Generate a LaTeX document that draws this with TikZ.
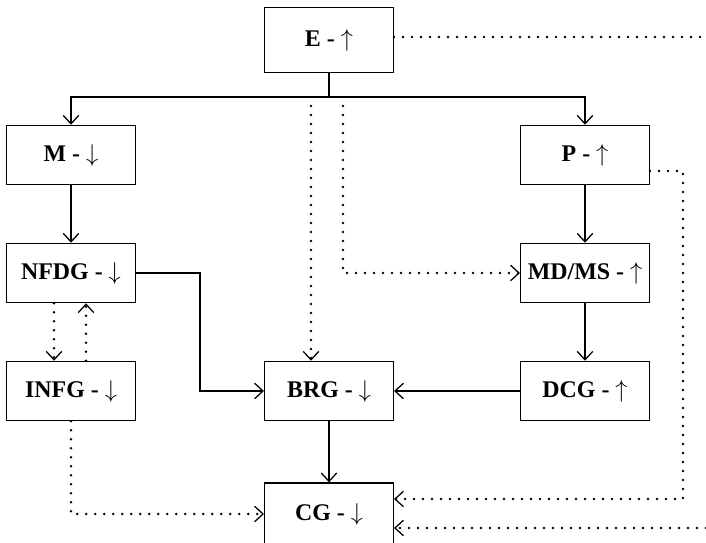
\documentclass[tikz,border=0pt]{standalone}
\usepackage{fontspec}
\setmainfont{Liberation Serif}
\usetikzlibrary{arrows.meta,calc}

\begin{document}
\begin{tikzpicture}[
    x=0.025cm, y=-0.025cm,
    block/.style={draw, line width=0.9pt, minimum width=3.22cm, minimum height=1.48cm, inner sep=0pt, align=center, font=\fontsize{17}{20}\selectfont\bfseries},
    arrow/.style={-{Straight Barb[length=6pt,width=11pt,line width=0.9pt]}, line width=0.9pt},
    dotarrow/.style={arrow, line cap=round, dash pattern=on 0pt off 6.4pt, line width=2pt}
]
\useasboundingbox (0,0) rectangle (706,543);
\clip (0,0) rectangle (706,543);

\node[block, minimum height=1.62cm] (e) at (329,40) {E - $\uparrow$};
\node[block] (m) at (71,155) {M - $\downarrow$};
\node[block] (p) at (585,155) {P - $\uparrow$};
\node[block] (nfdg) at (71,273) {NFDG - $\downarrow$};
\node[block] (mdms) at (585,273) {MD/MS - $\uparrow$};
\node[block] (infg) at (71,391) {INFG - $\downarrow$};
\node[block] (brg) at (329,391) {BRG - $\downarrow$};
\node[block] (dcg) at (585,391) {DCG - $\uparrow$};
\node[block, minimum height=1.55cm] (cg) at (329,514) {CG - $\downarrow$};

% free ends
\coordinate (split) at (329,97);
\coordinate (eleft) at (311,106);
\coordinate (eright) at (343,106);
\coordinate (eout) at (706,37);
\coordinate (cgin) at (706,528);

% solid links
\draw[line width=0.9pt] (e) -- (split);
\draw[arrow] (split) -| (m.north);
\draw[arrow] (split) -| (p.north);
\draw[arrow] (m) -- (nfdg);
\draw[arrow] (p) -- (mdms);
\draw[arrow] (mdms) -- (dcg);
\draw[arrow] (dcg) -- (brg);
\draw[arrow] (nfdg.east) -- ++(64,0) |- (brg.west);
\draw[arrow] (brg) -- (cg);

% dotted links
\draw[dotarrow, -] (e.east |- eout) -- (eout);
\draw[dotarrow] (eleft) -- (eleft |- brg.north);
\draw[dotarrow] (eright) |- (mdms.west);
\draw[dotarrow] ($(nfdg.south)+(-17,0)$) -- ($(infg.north)+(-17,0)$);
\draw[dotarrow] ($(infg.north)+(15,0)$) -- ($(nfdg.south)+(15,0)$);
\draw[dotarrow] (infg.south) |- (cg.west);
\draw[dotarrow] ($(p.east)+(0,16)$) -- ++(33,0) |- ($(cg.east)+(0,-15)$);
\draw[dotarrow] (cgin) -- (cg.east |- cgin);

\end{tikzpicture}
\end{document}
